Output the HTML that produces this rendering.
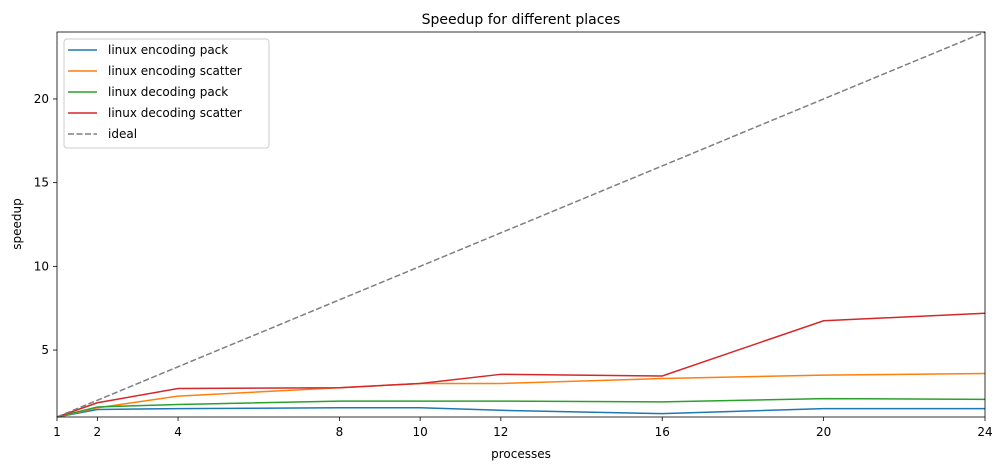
<!DOCTYPE html>
<html><head><meta charset="utf-8"><style>
body{margin:0;background:#fff;font-family:"Liberation Sans","DejaVu Sans",sans-serif;}
svg text{font-family:"DejaVu Sans","Liberation Sans",sans-serif;}
</style></head><body>
<svg id="chart" width="1005" height="470" xmlns="http://www.w3.org/2000/svg">
<rect width="1005" height="470" fill="#fff"/>
<text x="521" y="24" font-size="14" text-anchor="middle">Speedup for different places</text>
<text x="521" y="458" font-size="12" text-anchor="middle">processes</text>
<text transform="translate(21,224) rotate(-90)" font-size="12" text-anchor="middle">speedup</text>
<g id="plot"></g>
<rect x="57" y="32" width="928" height="385" fill="none" stroke="#000" stroke-width="0.8"/>
<g id="legend"></g>
</svg>
<script>
const xs = [1, 2, 4, 8, 10, 12, 16, 20, 24];
const encPack = [1, 1.45, 1.5, 1.55, 1.55, 1.4, 1.2, 1.5, 1.5];
const encScatter = [1, 1.55, 2.25, 2.75, 3.0, 3.0, 3.3, 3.5, 3.6];
const decPack = [1, 1.6, 1.75, 1.95, 1.95, 1.95, 1.9, 2.1, 2.05];
const decScatter = [1, 1.85, 2.7, 2.75, 3.0, 3.55, 3.45, 6.75, 7.2];
const ideal = [1, 2, 4, 8, 10, 12, 16, 20, 24];
const xTicks = [1, 2, 4, 8, 10, 12, 16, 20, 24];
const yTicks = [5, 10, 15, 20];
const seriesNames = ["linux encoding pack", "linux encoding scatter", "linux decoding pack", "linux decoding scatter", "ideal"];

const NS = "http://www.w3.org/2000/svg";
const X = v => 57 + (v - 1) / 23 * 928;
const Y = v => 417 - (v - 1) / 23 * 385;
const plot = document.getElementById('plot');
function mk(tag, attrs, parent) {
  const e = document.createElementNS(NS, tag);
  for (const k in attrs) e.setAttribute(k, attrs[k]);
  parent.appendChild(e); return e;
}
xTicks.forEach(t => {
  const g = mk('g', {}, plot);
  
  
  mk('line', {x1: X(t), x2: X(t), y1: 417, y2: 421, stroke: '#000', 'stroke-width': 0.8}, g);
  const tx = mk('text', {x: X(t), y: 436, 'font-size': 12, 'text-anchor': 'middle'}, g);
  tx.textContent = t;
});
yTicks.forEach(t => {
  const g = mk('g', {}, plot);
  
  
  mk('line', {x1: 53, x2: 57, y1: Y(t), y2: Y(t), stroke: '#000', 'stroke-width': 0.8}, g);
  const tx = mk('text', {x: 49, y: Y(t) + 4, 'font-size': 12, 'text-anchor': 'end'}, g);
  tx.textContent = t;
});
const series = [
  [encPack, '#1f77b4', 'line-encoding-pack', ''],
  [encScatter, '#ff7f0e', 'line-encoding-scatter', ''],
  [decPack, '#2ca02c', 'line-decoding-pack', ''],
  [decScatter, '#d62728', 'line-decoding-scatter', ''],
  [ideal, '#7f7f7f', 'line-ideal', '6,2.5']
];
series.forEach(s => {
  const p = mk('polyline', {points: xs.map((x, i) => X(x) + ',' + Y(s[0][i])).join(' '), fill: 'none', stroke: s[1], 'stroke-width': 1.5}, plot);
  if (s[3]) p.setAttribute('stroke-dasharray', s[3]);
  
  
});
const lg = document.getElementById('legend');


mk('rect', {x: 64, y: 39, width: 205, height: 109, rx: 3, fill: '#fff', stroke: '#ccc', 'stroke-width': 1}, lg);
series.forEach((s, i) => {
  const g = mk('g', {}, lg);
  
  
  const y = 50 + i * 21;
  const l = mk('line', {x1: 68, x2: 97, y1: y, y2: y, stroke: s[1], 'stroke-width': 1.5}, g);
  if (s[3]) l.setAttribute('stroke-dasharray', s[3]);
  const t = mk('text', {x: 108, y: y + 4, 'font-size': 12}, g);
  t.textContent = seriesNames[i];
});
</script>
</body></html>
